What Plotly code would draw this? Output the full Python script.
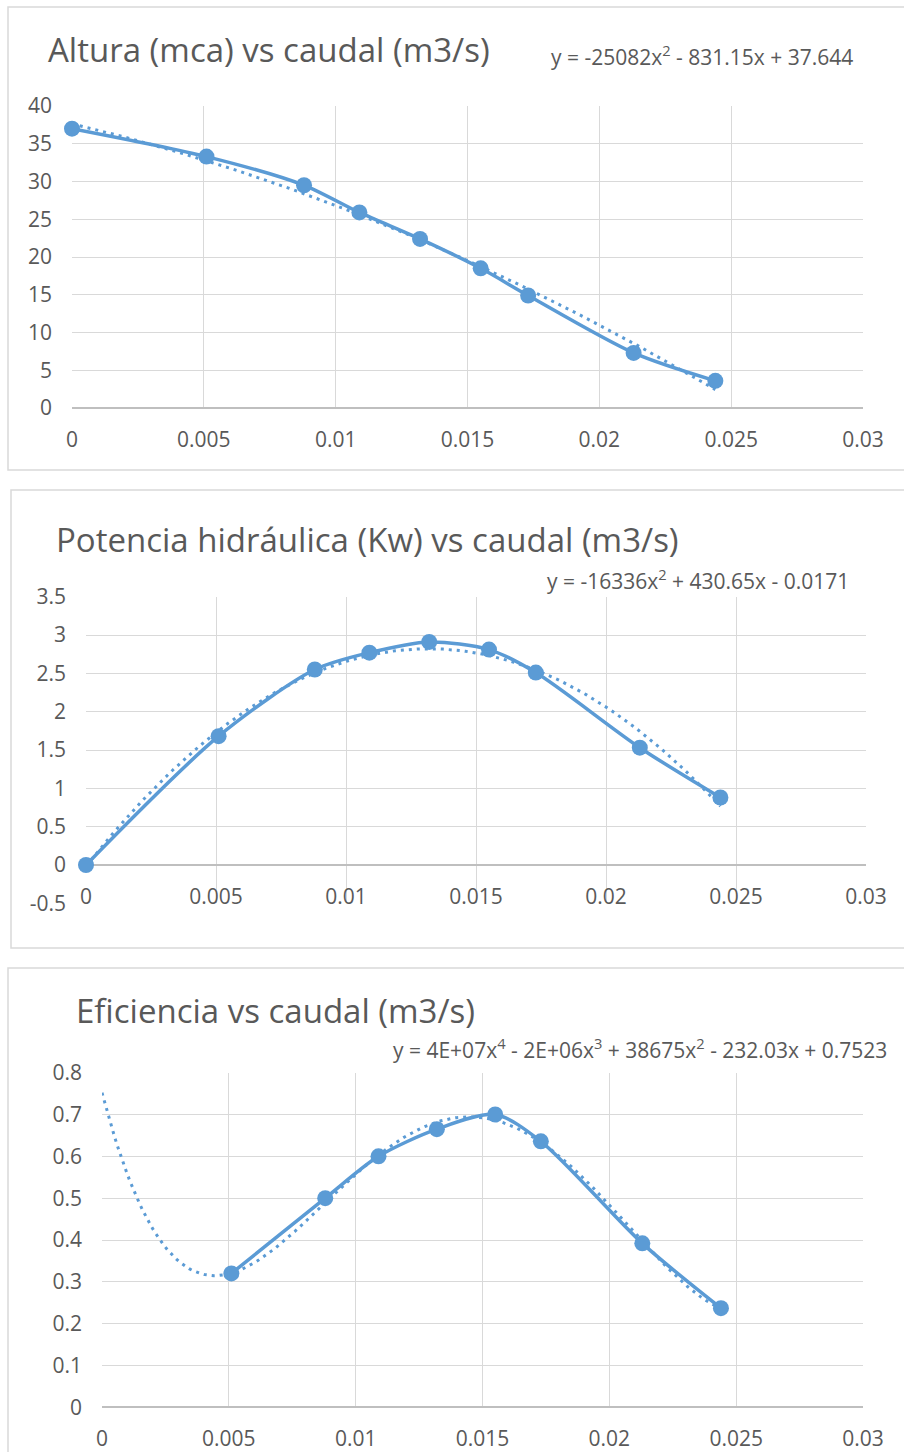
import numpy as np
import plotly.graph_objects as go

# ---------------- data ----------------
caudal = [0.0, 0.0051, 0.0088, 0.0109, 0.0132, 0.0155, 0.0173, 0.0213, 0.0244]
altura = [37.0, 33.3, 29.5, 25.9, 22.4, 18.5, 14.9, 7.3, 3.6]
potencia = [0.0, 1.68, 2.55, 2.77, 2.91, 2.81, 2.51, 1.53, 0.88]
caudal_ef = [0.0051, 0.0088, 0.0109, 0.0132, 0.0155, 0.0173, 0.0213, 0.0244]
eficiencia = [0.32, 0.50, 0.60, 0.665, 0.70, 0.636, 0.392, 0.237]

coef_altura = [-25082, -831.15, 37.644]      # as printed on chart
coef_potencia = [-16336, 430.65, -0.0171]    # as printed on chart
coef_ef_low = [38675, -232.03, 0.7523]       # x^2, x, const as printed

titles = ["Altura (mca) vs caudal (m3/s)",
          "Potencia hidráulica (Kw) vs caudal (m3/s)",
          "Eficiencia vs caudal (m3/s)"]
equations = ["y = -25082x<sup>2</sup> - 831.15x + 37.644",
             "y = -16336x<sup>2</sup> + 430.65x - 0.0171",
             "y = 4E+07x<sup>4</sup> - 2E+06x<sup>3</sup> + 38675x<sup>2</sup> - 232.03x + 0.7523"]

x_ticks = [0, 0.005, 0.01, 0.015, 0.02, 0.025, 0.03]
x_ticktext = ["0", "0.005", "0.01", "0.015", "0.02", "0.025", "0.03"]
y1_ticks = [0, 5, 10, 15, 20, 25, 30, 35, 40]
y1_text = ["0", "5", "10", "15", "20", "25", "30", "35", "40"]
y2_ticks = [-0.5, 0, 0.5, 1, 1.5, 2, 2.5, 3, 3.5]
y2_text = ["-0.5", "0", "0.5", "1", "1.5", "2", "2.5", "3", "3.5"]
y3_ticks = [0, 0.1, 0.2, 0.3, 0.4, 0.5, 0.6, 0.7, 0.8]
y3_text = ["0", "0.1", "0.2", "0.3", "0.4", "0.5", "0.6", "0.7", "0.8"]

# ---------------- layout helpers ----------------
W, H = 904, 1452
def px(x):
    return x / W
def py(y):
    return 1 - y / H

BLUE = "#5b9bd5"
GRID = "#d9d9d9"
AXIS = "#bfbfbf"
TXT = "#595959"
FONT = "Open Sans"

# trendline for efficiency: printed low-order terms, high-order terms refit
xe = np.array(caudal_ef)
resid = np.array(eficiencia) - np.polyval(coef_ef_low, xe)
A = np.vstack([xe ** 4, xe ** 3]).T
c4, c3 = np.linalg.lstsq(A, resid, rcond=None)[0]
coef_ef = [c4, c3] + coef_ef_low

xt1 = np.linspace(min(caudal), max(caudal), 200)
xt3 = np.linspace(0.0, max(caudal_ef), 200)

fig = go.Figure()

def add_series(x, y, xa, ya, xt, coef):
    fig.add_trace(go.Scatter(x=xt, y=np.polyval(coef, xt), mode="lines",
                             line=dict(color=BLUE, width=3, dash="3px,5px"),
                             xaxis=xa, yaxis=ya, showlegend=False, hoverinfo="skip",
                             cliponaxis=False))
    fig.add_trace(go.Scatter(x=x, y=y, mode="lines+markers",
                             line=dict(color=BLUE, width=3.5, shape="spline", smoothing=0.8),
                             marker=dict(color=BLUE, size=16),
                             xaxis=xa, yaxis=ya, showlegend=False, cliponaxis=False))

add_series(caudal, altura, "x", "y", xt1, coef_altura)
add_series(caudal, potencia, "x2", "y2", xt1, coef_potencia)
add_series(caudal_ef, eficiencia, "x3", "y3", xt3, coef_ef)

# plot areas (pixel boxes)
boxes = [
    (72, 863, 106, 408),
    (86, 866, 596.7, 903.3),
    (102, 863, 1072.7, 1407.3),
]
yranges = [[0, 40], [-0.5, 3.5], [0, 0.8]]
yticks = [(y1_ticks, y1_text), (y2_ticks, y2_text), (y3_ticks, y3_text)]

tickfont = dict(family=FONT, size=21, color=TXT)
layout = {}
for i, (l, r, t, b) in enumerate(boxes):
    n = "" if i == 0 else str(i + 1)
    ydom = [py(b), py(t)]
    xa = dict(domain=[px(l), px(r)], range=[0, 0.03], tickvals=x_ticks, ticktext=x_ticktext,
              showgrid=True, gridcolor=GRID, gridwidth=1.3, zeroline=False,
              showline=False, ticks="", tickfont=tickfont, ticklabelstandoff=17,
              fixedrange=True, automargin=False)
    ya = dict(domain=ydom, range=yranges[i], tickvals=yticks[i][0], ticktext=yticks[i][1],
              showgrid=True, gridcolor=GRID, gridwidth=1.3, zeroline=True,
              zerolinecolor=AXIS, zerolinewidth=1.5, showline=False, ticks="",
              tickfont=tickfont, ticklabelstandoff=19, fixedrange=True, automargin=False)
    if i == 1:
        frac = (0 - yranges[i][0]) / (yranges[i][1] - yranges[i][0])
        xa.update(anchor="free", position=ydom[0] + frac * (ydom[1] - ydom[0]))
    else:
        xa["anchor"] = "y" + n
    ya["anchor"] = "x" + n
    layout["xaxis" + n] = xa
    layout["yaxis" + n] = ya

fig.update_layout(**layout)

# chart frames (pixels)
frames = [(8, 7, 930, 470), (11, 490, 930, 948), (8, 968, 930, 1480)]
shapes = []
for (x0, y0, x1, y1) in frames:
    shapes.append(dict(type="rect", xref="paper", yref="paper",
                       x0=px(x0), x1=px(x1), y0=py(y1), y1=py(y0),
                       line=dict(color=GRID, width=1.5), fillcolor="rgba(0,0,0,0)", layer="below"))

title_pos = [(46, 50), (54, 539), (74, 1011)]
eq_pos = [(855, 56), (851, 580), (889, 1048)]
annotations = []
for i in range(3):
    annotations.append(dict(text=titles[i], xref="paper", yref="paper",
                            x=px(title_pos[i][0]), y=py(title_pos[i][1]),
                            xanchor="left", yanchor="middle", showarrow=False,
                            font=dict(family=FONT, size=33, color=TXT)))
    annotations.append(dict(text=equations[i], xref="paper", yref="paper",
                            x=px(eq_pos[i][0]), y=py(eq_pos[i][1]),
                            xanchor="right", yanchor="middle", showarrow=False,
                            font=dict(family=FONT, size=21, color=TXT)))

fig.update_layout(width=W, height=H,
                  margin=dict(l=0, r=0, t=0, b=0, pad=0, autoexpand=False),
                  paper_bgcolor="white", plot_bgcolor="white",
                  shapes=shapes, annotations=annotations, showlegend=False)

fig.write_html("out.html", config={"displayModeBar": False, "responsive": False})
